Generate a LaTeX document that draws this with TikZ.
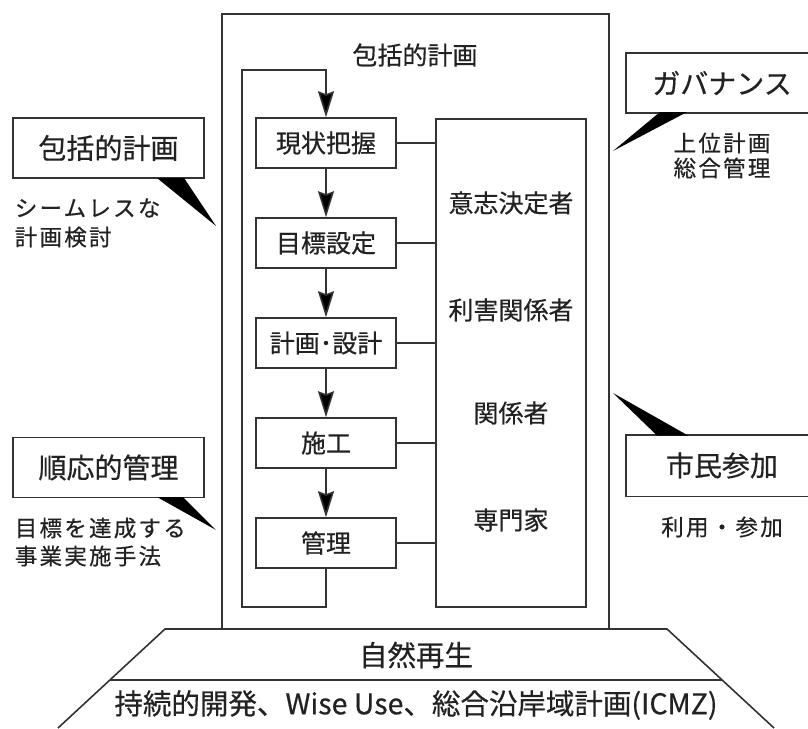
\documentclass[tikz,border=0pt]{standalone}
\usepackage{fontspec}
\setmainfont{Noto Sans CJK JP}[FakeBold=0.5]
\usetikzlibrary{arrows.meta,calc}
\definecolor{ln}{HTML}{333333}
\definecolor{tx}{HTML}{222222}
\newcommand{\fs}[1]{\fontsize{#1}{#1}\selectfont}
\begin{document}
\begin{tikzpicture}[x=1pt,y=-1pt,line width=1.6pt,
  every node/.style={text=tx},
  stepbox/.style={draw=ln,minimum width=140pt,minimum height=50pt,inner sep=0pt,font=\fs{25}},
  lbl/.style={inner sep=0pt,font=\fs{25}},
  calltitle/.style={draw=ln,minimum width=191pt,minimum height=60pt,inner sep=0pt,font=\fs{28}},
  sub/.style={inner sep=0pt,font=\fs{22.5}\addfontfeature{LetterSpace=10}},
  base/.style={inner sep=0pt,font=\fs{28.5}},
  arr/.style={draw=ln,-{Stealth[length=26pt,width=16pt,inset=3pt,fill=black]}},
  wedge/.style={fill=black,draw=none}]
\useasboundingbox (0,0) rectangle (808,728);
\fill[white] (0,0) rectangle (808,728);
\coordinate (edgeR) at (808,0);

% outer frame
\node[draw=ln,minimum width=387pt,minimum height=615pt,inner sep=0pt] (frame) at (415.5,321.5) {};
\node[lbl] (ftitle) at (415,55) {包括的計画};

% process boxes
\node[stepbox] (b1) at (326,143) {現状把握};
\node[stepbox] (b2) at (326,243) {目標設定};
\node[stepbox] (b3) at (326,343) {計画･設計};
\node[stepbox] (b4) at (326,443) {施工};
\node[stepbox] (b5) at (326,543) {管理};

% actors box
\node[draw=ln,minimum width=150pt,minimum height=488pt,inner sep=0pt] (R) at (511,363) {};
\node[lbl] (r1) at (511,203) {意志決定者};
\node[lbl] (r2) at (511,310) {利害関係者};
\node[lbl] (r3) at (511,413) {関係者};
\node[lbl] (r4) at (511,520) {専門家};

% arrows
\draw[arr] (b1) -- (b2);
\draw[arr] (b2) -- (b3);
\draw[arr] (b3) -- (b4);
\draw[arr] (b4) -- (b5);
\coordinate (loopBL) at (242,607);
\coordinate (loopTL) at (242,70);
\draw[arr] (b5.south) |- (loopBL) -- (loopTL) -| (b1.north);

% connectors to actors box
\foreach \b in {b1,b2,b3,b4,b5}{
  \draw[ln] (\b.east) -- (\b.east -| R.west);
}

% left callouts
\node[calltitle] (c1) at (108.5,148) {包括的計画};
\fill[wedge] (157,178) -- (184,178) -- (216,226) -- cycle;
\node[sub,anchor=west] (c1a) at (14,208) {シームレスな};
\node[sub,anchor=west] (c1b) at (14,237) {計画検討};

\node[calltitle] (c2) at (108.5,467.5) {順応的管理};
\fill[wedge] (157,497) -- (183,497) -- (216,530) -- cycle;
\node[sub,anchor=west] (c2a) at (14,528) {目標を達成する};
\node[sub,anchor=west] (c2b) at (14,556) {事業実施手法};

% right callouts (cut at the page edge)
\node[minimum width=190pt,minimum height=58pt,inner sep=0pt,font=\fs{28}] (c3) at (722,83) {ガバナンス};
\draw[ln] (c3.north west -| edgeR) -- (c3.north west) -- (c3.south west) -- (c3.south west -| edgeR);
\fill[wedge] (660,112) -- (687,112) -- (613,151) -- cycle;
\node[sub] (c3a) at (722,143) {上位計画};
\node[sub] (c3b) at (722,168) {総合管理};

\node[minimum width=190pt,minimum height=60pt,inner sep=0pt,font=\fs{28}] (c4) at (722,465.5) {市民参加};
\draw[ln] (c4.north west -| edgeR) -- (c4.north west) -- (c4.south west) -- (c4.south west -| edgeR);
\fill[wedge] (657,435.5) -- (688,435.5) -- (613,393) -- cycle;
\node[sub] (c4a) at (722,527) {利用・参加};

% base trapezoid
\draw[ln] (58,728) -- (165,629) -- (667,629) -- (774,728);
\draw[ln] (110,680) -- (722,680);
\node[base] (t1) at (416,655) {自然再生};
\node[base] (t2) at (416,705) {持続的開発、Wise Use、総合沿岸域計画(ICMZ)};
\end{tikzpicture}
\end{document}
